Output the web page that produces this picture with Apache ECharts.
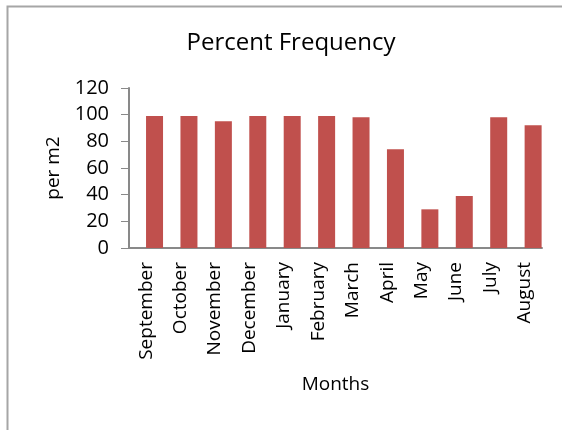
<!DOCTYPE html>
<html>
<head>
<meta charset="utf-8">
<script src="https://cdn.jsdelivr.net/npm/echarts@6/dist/echarts.min.js"></script>
<style>
  html, body { margin: 0; padding: 0; background: #fff; }
  #chart { width: 562px; height: 430px; }
</style>
</head>
<body>
<div id="chart"></div>
<script>
// Monthly values (per m2)
const months = ['September', 'October', 'November', 'December', 'January', 'February',
                'March', 'April', 'May', 'June', 'July', 'August'];
const frequency = [99, 99, 95, 99, 99, 99, 98, 74, 29, 39, 98, 92];
const yTicks = { min: 0, max: 120, interval: 20 };

const FONT = '"Open Sans", "Noto Sans", sans-serif';
const chart = echarts.init(document.getElementById('chart'), null, { renderer: 'canvas' });

chart.setOption({
  animation: false,
  backgroundColor: '#ffffff',
  title: {
    text: 'Percent Frequency',
    left: 286, top: 26, textAlign: 'center',
    textStyle: { fontFamily: FONT, fontSize: 24, fontWeight: 'normal', color: '#000' }
  },
  graphic: [{
    // chart frame: only the top and left edges fall inside the window
    type: 'rect',
    shape: { x: 7.5, y: 6.5, width: 700, height: 600 },
    style: { fill: 'none', stroke: '#a6a6a6', lineWidth: 2 },
    silent: true
  }],
  grid: { left: 129, top: 88, width: 413, height: 160, containLabel: false },
  xAxis: {
    type: 'category',
    data: months,
    name: 'Months',
    nameLocation: 'middle',
    nameGap: 127,
    nameTextStyle: { fontFamily: FONT, fontSize: 19, color: '#000' },
    axisLine: { lineStyle: { color: '#898989', width: 2 } },
    axisTick: { show: false },
    axisLabel: {
      rotate: 90, interval: 0, margin: 14,
      fontFamily: FONT, fontSize: 19, color: '#000'
    }
  },
  yAxis: {
    type: 'value',
    min: yTicks.min, max: yTicks.max, interval: yTicks.interval,
    name: 'per m2',
    nameLocation: 'middle',
    nameGap: 66,
    nameRotate: 90,
    nameTextStyle: { fontFamily: FONT, fontSize: 19, color: '#000' },
    splitLine: { show: false },
    axisLine: { show: true, lineStyle: { color: '#898989', width: 2 } },
    axisTick: { show: true, length: 8, inside: false, lineStyle: { color: '#898989', width: 1 } },
    axisLabel: { margin: 20, fontFamily: FONT, fontSize: 20, color: '#000' }
  },
  series: [
    {
      // empty spacer slot: pushes the visible bars to the right half of each band
      type: 'bar',
      data: [],
      barWidth: 17,
      barGap: '-2%',
      silent: true
    },
    {
      type: 'bar',
      data: frequency,
      barWidth: 17,
      barGap: '-2%',
      itemStyle: { color: '#c0504d' }
    }
  ]
});
</script>
</body>
</html>
